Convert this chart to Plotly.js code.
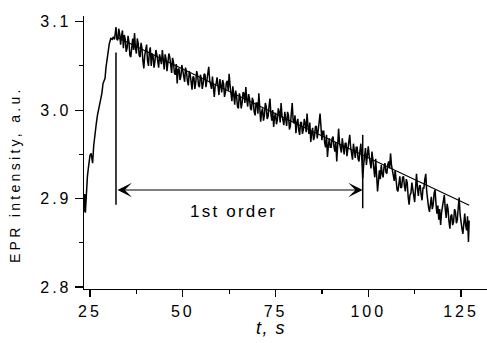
<!DOCTYPE html>
<html>
<head>
<meta charset="utf-8">
<script src="https://cdn.plot.ly/plotly-3.0.1.min.js"></script>
<style>
  html, body { margin: 0; padding: 0; background: #fff; }
  #chart { width: 487px; height: 343px; }
  .xtick text, .ytick text { letter-spacing: 3px; }
  .annotation[data-index="1"] text { letter-spacing: 3.3px; }
  .annotation[data-index="2"] text { letter-spacing: 1.5px; }
  .annotation[data-index="3"] text { letter-spacing: 2.2px; }
</style>
</head>
<body>
<div id="chart"></div>
<script>
// Rising part of the EPR signal
const riseT = [23.45, 23.6, 23.75, 23.9, 24.1, 24.3, 24.55, 24.8, 25.0, 25.3, 25.5, 25.7, 26.0, 26.35, 26.7, 27.0, 27.2, 27.6, 28.0, 28.2, 28.5, 28.8, 29.05, 29.3, 29.5, 29.7, 29.9, 30.2, 30.6, 31.0, 31.3, 31.6];
const riseY = [2.885, 2.905, 2.884, 2.900, 2.911, 2.925, 2.934, 2.946, 2.949, 2.951, 2.942, 2.940, 2.960, 2.975, 2.985, 2.994, 2.998, 3.007, 3.014, 3.019, 3.030, 3.033, 3.036, 3.048, 3.055, 3.062, 3.070, 3.075, 3.081, 3.080, 3.083, 3.080];

// Decay part of the EPR signal (sampled every 0.25 s)
const decayT = [
32.0,32.25,32.5,32.75,33.0,33.25,33.5,33.75,34.0,34.25,34.5,34.75,35.0,35.25,35.5,35.75,36.0,36.25,36.5,36.75,37.0,37.25,37.5,37.75,38.0,38.25,38.5,38.75,39.0,39.25,39.5,39.75,
40.0,40.25,40.5,40.75,41.0,41.25,41.5,41.75,42.0,42.25,42.5,42.75,43.0,43.25,43.5,43.75,44.0,44.25,44.5,44.75,45.0,45.25,45.5,45.75,46.0,46.25,46.5,46.75,47.0,47.25,47.5,47.75,
48.0,48.25,48.5,48.75,49.0,49.25,49.5,49.75,50.0,50.25,50.5,50.75,51.0,51.25,51.5,51.75,52.0,52.25,52.5,52.75,53.0,53.25,53.5,53.75,54.0,54.25,54.5,54.75,55.0,55.25,55.5,55.75,
56.0,56.25,56.5,56.75,57.0,57.25,57.5,57.75,58.0,58.25,58.5,58.75,59.0,59.25,59.5,59.75,60.0,60.25,60.5,60.75,61.0,61.25,61.5,61.75,62.0,62.25,62.5,62.75,63.0,63.25,63.5,63.75,
64.0,64.25,64.5,64.75,65.0,65.25,65.5,65.75,66.0,66.25,66.5,66.75,67.0,67.25,67.5,67.75,68.0,68.25,68.5,68.75,69.0,69.25,69.5,69.75,70.0,70.25,70.5,70.75,71.0,71.25,71.5,71.75,
72.0,72.25,72.5,72.75,73.0,73.25,73.5,73.75,74.0,74.25,74.5,74.75,75.0,75.25,75.5,75.75,76.0,76.25,76.5,76.75,77.0,77.25,77.5,77.75,78.0,78.25,78.5,78.75,79.0,79.25,79.5,79.75,
80.0,80.25,80.5,80.75,81.0,81.25,81.5,81.75,82.0,82.25,82.5,82.75,83.0,83.25,83.5,83.75,84.0,84.25,84.5,84.75,85.0,85.25,85.5,85.75,86.0,86.25,86.5,86.75,87.0,87.25,87.5,87.75,
88.0,88.25,88.5,88.75,89.0,89.25,89.5,89.75,90.0,90.25,90.5,90.75,91.0,91.25,91.5,91.75,92.0,92.25,92.5,92.75,93.0,93.25,93.5,93.75,94.0,94.25,94.5,94.75,95.0,95.25,95.5,95.75,
96.0,96.25,96.5,96.75,97.0,97.25,97.5,97.75,98.0,98.25,98.5,98.75,99.0,99.25,99.5,99.75,100.0,100.25,100.5,100.75,101.0,101.25,101.5,101.75,102.0,102.25,102.5,102.75,103.0,103.25,103.5,103.75,
104.0,104.25,104.5,104.75,105.0,105.25,105.5,105.75,106.0,106.25,106.5,106.75,107.0,107.25,107.5,107.75,108.0,108.25,108.5,108.75,109.0,109.25,109.5,109.75,110.0,110.25,110.5,110.75,111.0,111.25,111.5,111.75,
112.0,112.25,112.5,112.75,113.0,113.25,113.5,113.75,114.0,114.25,114.5,114.75,115.0,115.25,115.5,115.75,116.0,116.25,116.5,116.75,117.0,117.25,117.5,117.75,118.0,118.25,118.5,118.75,119.0,119.25,119.5,119.75,
120.0,120.25,120.5,120.75,121.0,121.25,121.5,121.75,122.0,122.25,122.5,122.75,123.0,123.25,123.5,123.75,124.0,124.25,124.5,124.75,125.0,125.25,125.5,125.75,126.0,126.25,126.5,126.75,127.0,127.2];
const decayY = [
3.094,3.080,3.079,3.092,3.086,3.074,3.084,3.090,3.070,3.085,3.080,3.066,3.070,3.084,3.077,3.062,3.060,3.076,3.081,3.068,3.087,3.070,3.064,3.081,3.075,3.062,3.060,3.076,3.070,3.056,3.047,3.062,
3.068,3.074,3.056,3.050,3.066,3.071,3.050,3.064,3.061,3.048,3.055,3.068,3.063,3.051,3.048,3.063,3.059,3.052,3.068,3.054,3.046,3.063,3.058,3.044,3.052,3.064,3.060,3.048,3.042,3.059,3.054,3.042,
3.040,3.052,3.030,3.046,3.047,3.034,3.038,3.051,3.045,3.037,3.032,3.048,3.043,3.033,3.028,3.044,3.040,3.032,3.023,3.038,3.037,3.024,3.031,3.044,3.039,3.028,3.026,3.040,3.036,3.024,3.030,3.041,
3.040,3.026,3.033,3.045,3.049,3.034,3.028,3.024,3.038,3.025,3.015,3.028,3.030,3.037,3.022,3.017,3.035,3.024,3.020,3.034,3.030,3.015,3.020,3.031,3.033,3.022,3.041,3.028,3.016,3.010,3.027,3.017,
3.006,3.022,3.016,3.004,3.002,3.019,3.014,3.002,3.008,3.020,3.019,3.008,3.026,3.012,3.004,3.018,3.013,3.002,3.000,3.014,3.010,2.998,2.994,3.008,3.008,2.996,3.019,3.003,2.987,2.998,3.002,2.988,
2.994,3.008,3.004,2.990,2.993,3.004,3.013,2.996,2.988,3.000,2.981,2.992,2.997,2.984,2.989,3.002,2.998,2.986,3.008,2.994,2.988,2.983,2.998,2.990,2.982,2.998,2.994,2.978,2.982,2.996,3.008,2.988,
2.985,2.994,2.974,2.986,2.990,2.978,2.972,2.986,2.986,2.973,2.978,2.990,2.985,2.975,2.996,2.982,2.973,2.986,2.964,2.974,2.980,2.966,2.970,2.981,2.982,2.968,2.975,2.986,2.996,2.976,2.966,2.976,
2.976,2.963,2.958,2.972,2.947,2.960,2.968,2.958,2.958,2.968,2.970,2.959,2.953,2.964,2.942,2.960,2.979,2.963,2.958,2.952,2.968,2.958,2.950,2.962,2.963,2.948,2.955,2.966,2.972,2.958,2.951,2.944,
2.962,2.953,2.946,2.958,2.958,2.945,2.942,2.954,2.962,2.946,2.923,2.938,2.948,2.957,2.938,2.952,2.959,2.948,2.942,2.934,2.953,2.943,2.934,2.924,2.945,2.928,2.908,2.920,2.932,2.922,2.938,2.928,
2.924,2.936,2.940,2.930,2.928,2.938,2.942,2.934,2.951,2.938,2.930,2.922,2.920,2.932,2.916,2.910,2.908,2.920,2.925,2.912,2.913,2.924,2.925,2.914,2.908,2.922,2.918,2.902,2.893,2.904,2.906,2.918,
2.912,2.902,2.896,2.912,2.928,2.912,2.903,2.914,2.915,2.904,2.898,2.912,2.912,2.922,2.928,2.908,2.896,2.890,2.885,2.898,2.902,2.888,2.893,2.906,2.910,2.894,2.883,2.892,2.876,2.888,2.870,2.884,
2.892,2.900,2.904,2.888,2.878,2.894,2.888,2.874,2.866,2.880,2.882,2.870,2.874,2.888,2.885,2.872,2.876,2.890,2.901,2.882,2.870,2.866,2.860,2.876,2.883,2.870,2.864,2.880,2.851,2.875];

// First-order fit line
const fitT = [32.0, 79.6, 127.2];
const fitY = [3.083, 2.9865, 2.8925];

// Interval markers (vertical lines), arrow and label
const markT = [32.0, 98.5];
const markTop = [3.065, 2.972];
const markBottom = [2.893, 2.889];
const arrowY = 2.9096;
const labelT = 63.6;
const labelY = 2.885;
const labelText = "1st order";

const xTicks = [25, 50, 75, 100, 125];
const yTicks = [2.8, 2.9, 3.0, 3.1];
const yTickText = ["2.8", "2.9", "3.0", "3.1"];

const FONT = "Arial, 'Liberation Sans', sans-serif";

const traces = [
  { x: riseT.concat(decayT), y: riseY.concat(decayY), type: 'scatter', mode: 'lines',
    line: { color: '#000', width: 1.5 }, hoverinfo: 'skip' },
  { x: fitT, y: fitY, type: 'scatter', mode: 'lines',
    line: { color: '#000', width: 1.1 }, hoverinfo: 'skip' }
];

const shapes = markT.map((t, i) => ({
  type: 'line', xref: 'x', yref: 'y', x0: t, x1: t, y0: markBottom[i], y1: markTop[i],
  line: { color: '#000', width: 1.5 }
}));

const annotations = [
  { xref: 'x', yref: 'y', x: markT[1], y: arrowY, axref: 'x', ayref: 'y', ax: markT[0], ay: arrowY,
    text: '', showarrow: true, arrowhead: 3, arrowside: 'end+start', arrowsize: 2.2, arrowwidth: 1.1,
    arrowcolor: '#000', standoff: 0, startstandoff: 0 },
  { xref: 'paper', yref: 'paper', x: -0.171, y: 0.419, xanchor: 'center', yanchor: 'middle',
    text: 'EPR intensity, a.u.', textangle: -90, showarrow: false,
    font: { family: FONT, size: 14, color: '#000' } },
  { xref: 'paper', yref: 'paper', x: 0.464, y: -0.142, xanchor: 'center', yanchor: 'middle',
    text: '<i>t, s</i>', showarrow: false, font: { family: FONT, size: 18, color: '#000' } },
  { xref: 'x', yref: 'y', x: labelT, y: labelY, xanchor: 'center', yanchor: 'middle',
    text: labelText, showarrow: false, font: { family: FONT, size: 17, color: '#000' } }
];

const layout = {
  width: 487, height: 343,
  margin: { l: 84, r: 0, t: 16, b: 54, pad: 0 },
  paper_bgcolor: '#fff', plot_bgcolor: '#fff',
  showlegend: false,
  font: { family: FONT, size: 16, color: '#000' },
  xaxis: {
    range: [23.38, 132.0], showgrid: false, zeroline: false,
    showline: true, linecolor: '#000', linewidth: 1.3,
    ticks: 'outside', ticklen: 7, tickwidth: 1.2, tickcolor: '#000',
    tickvals: xTicks, ticktext: xTicks.map(String),
    tickfont: { family: FONT, size: 16, color: '#000' },
    minor: { dtick: 12.5, tick0: 0, ticks: 'outside', ticklen: 4, tickwidth: 1.2, tickcolor: '#000', showgrid: false }
  },
  yaxis: {
    range: [2.7977, 3.1064], showgrid: false, zeroline: false,
    showline: true, linecolor: '#000', linewidth: 1.3,
    ticks: 'outside', ticklen: 8, tickwidth: 1.2, tickcolor: '#000',
    tickvals: yTicks, ticktext: yTickText,
    tickfont: { family: FONT, size: 16, color: '#000' },
    minor: { dtick: 0.05, tick0: 2.8, ticks: 'outside', ticklen: 4, tickwidth: 1.2, tickcolor: '#000', showgrid: false }
  },
  shapes: shapes,
  annotations: annotations
};

Plotly.newPlot('chart', traces, layout, { staticPlot: true, displayModeBar: false });
</script>
</body>
</html>
